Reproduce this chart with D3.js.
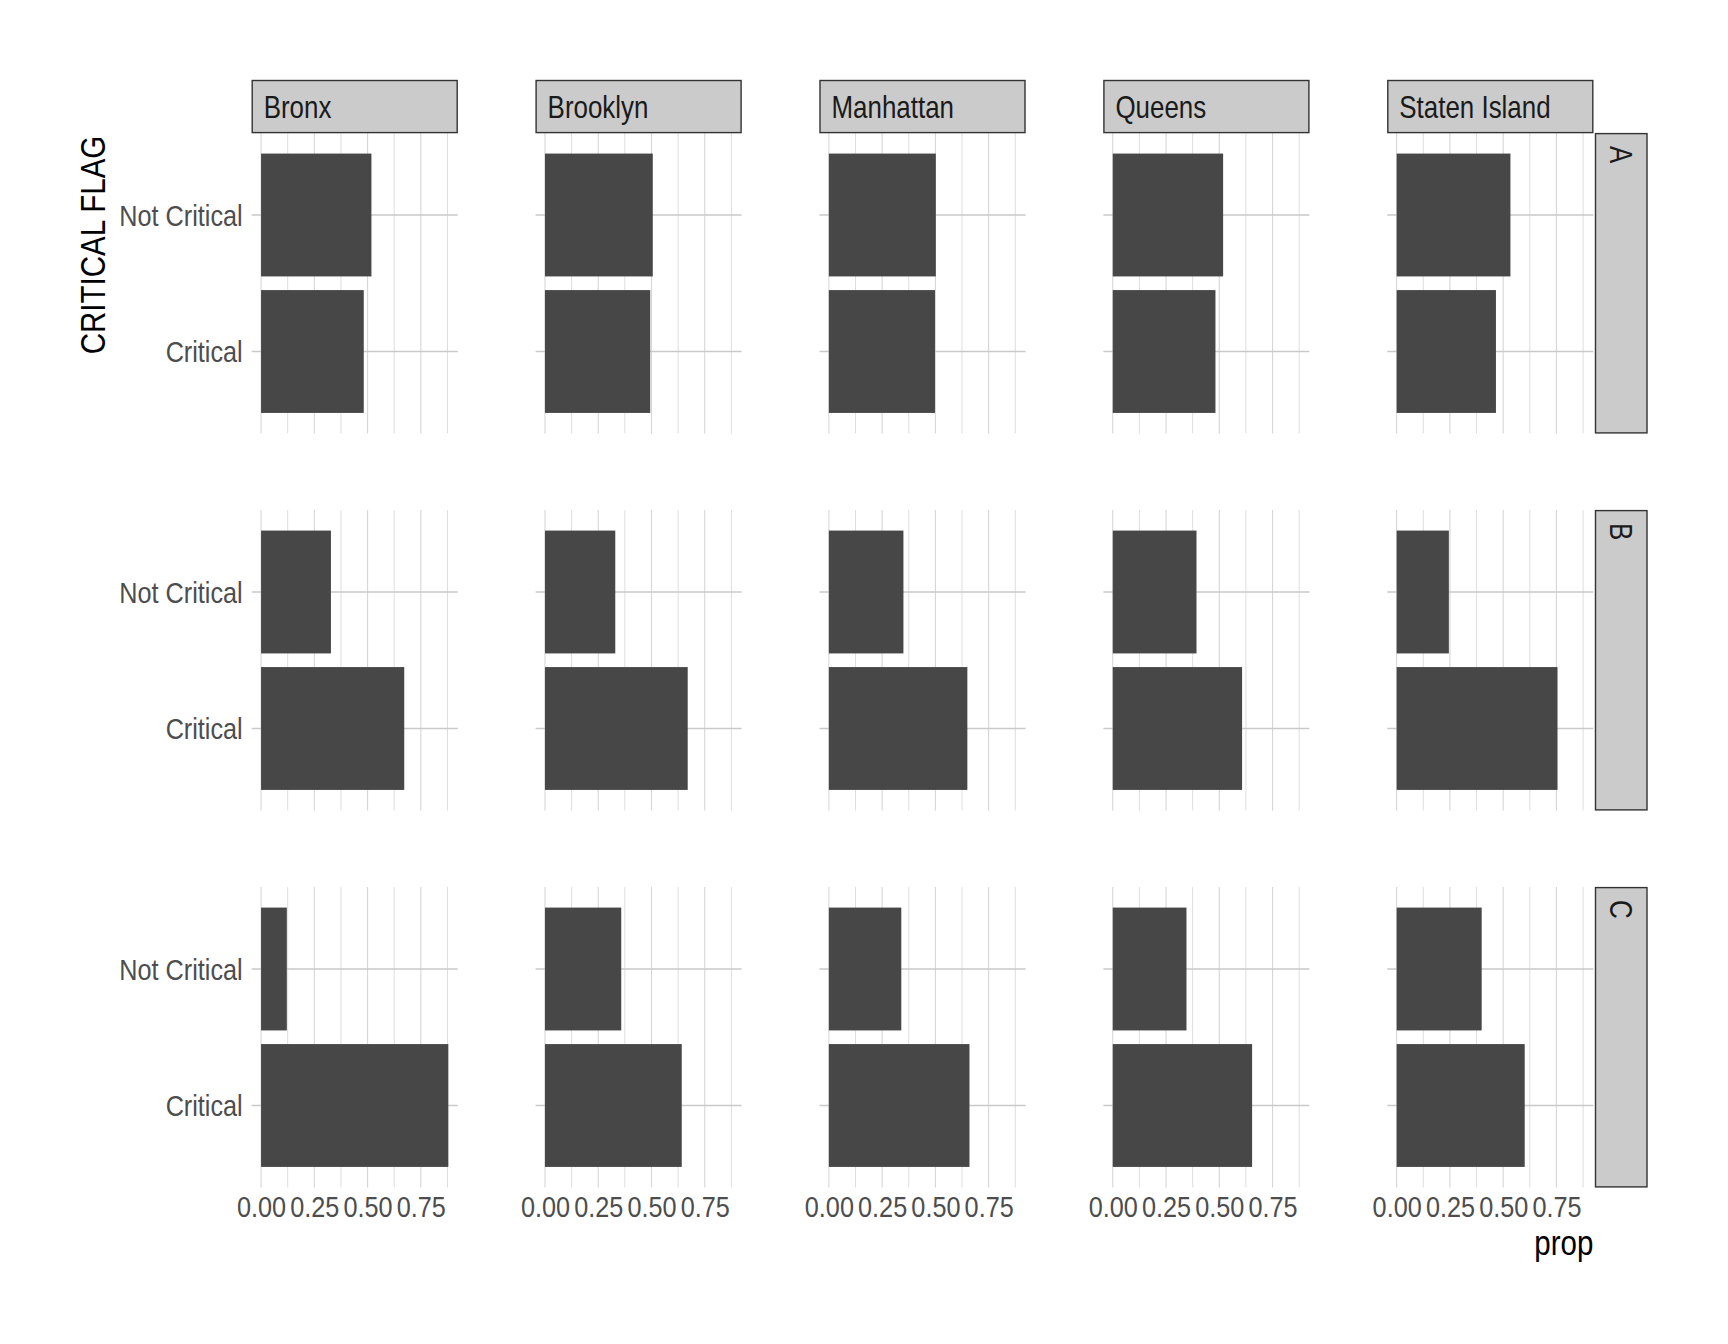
<!DOCTYPE html>
<html>
<head>
<meta charset="utf-8">
<script src="https://cdn.jsdelivr.net/npm/d3@7"></script>
<style>
  html, body { margin: 0; padding: 0; background: #ffffff; }
  svg { display: block; }
</style>
</head>
<body>
<svg id="chart" width="1728" height="1344"></svg>
<script>
// ---------------- data ----------------
const boroughs = ["Bronx", "Brooklyn", "Manhattan", "Queens", "Staten Island"];
const grades = ["A", "B", "C"];
const flags = ["Not Critical", "Critical"];

const notCriticalA = [0.518, 0.506, 0.502, 0.518, 0.534];
const criticalA    = [0.482, 0.494, 0.498, 0.482, 0.466];
const notCriticalB = [0.328, 0.330, 0.350, 0.393, 0.245];
const criticalB    = [0.672, 0.670, 0.650, 0.607, 0.755];
const notCriticalC = [0.121, 0.358, 0.340, 0.346, 0.399];
const criticalC    = [0.879, 0.642, 0.660, 0.654, 0.601];

const majorTicks = [0, 0.25, 0.50, 0.75];
const minorTicks = [0.125, 0.375, 0.625, 0.875];

const xTitle = "prop";
const yTitle = "CRITICAL FLAG";

// build rows
const byGrade = {
  A: [notCriticalA, criticalA],
  B: [notCriticalB, criticalB],
  C: [notCriticalC, criticalC]
};
const rows = [];
grades.forEach(g => {
  boroughs.forEach((b, bi) => {
    flags.forEach((f, fi) => {
      rows.push({ grade: g, borough: b, flag: f, prop: byGrade[g][fi][bi] });
    });
  });
});

// ---------------- layout ----------------
const FONT = "'Liberation Sans', Arial, sans-serif";
const TICK_SIZE = 29, TICK_SX = 0.87;
const STRIP_SIZE = 30.5, STRIP_SX = 0.85;
const TITLE_SIZE = 36, TITLE_SX = 0.82;

const panelLeft0 = 251.7, colStep = 283.9, panelW = 206;
const panelTop0 = 133.1, rowStep = 377, panelH = 300.3;
const stripTopY = 80, stripTopH = panelTop0 - stripTopY;
const stripRightGap = 1.7, stripRightW = 52.5;

const svg = d3.select("#chart");

const maxProp = d3.max(rows, d => d.prop);
const x = d3.scaleLinear()
  .domain([-0.05 * maxProp, 1.05 * maxProp])
  .range([0, panelW]);

const y = d3.scalePoint()
  .domain(flags)
  .range([0, panelH])
  .padding(0.6);
const step = y.step();
const barH = step * 0.9;

grades.forEach((g, gi) => {
  boroughs.forEach((b, bi) => {
    const px = panelLeft0 + bi * colStep;
    const py = panelTop0 + gi * rowStep;
    const p = svg.append("g").attr("transform", `translate(${px},${py})`);

    // minor + major vertical grid
    p.selectAll("line.vminor").data(minorTicks.filter(t => x(t) <= panelW)).enter()
      .append("line")
      .attr("x1", d => x(d)).attr("x2", d => x(d))
      .attr("y1", 0).attr("y2", panelH)
      .attr("stroke", "#dedede").attr("stroke-width", 1);
    p.selectAll("line.vmajor").data(majorTicks).enter()
      .append("line")
      .attr("x1", d => x(d)).attr("x2", d => x(d))
      .attr("y1", 0).attr("y2", panelH)
      .attr("stroke", "#d6d6d6").attr("stroke-width", 1.1);
    // horizontal grid
    p.selectAll("line.h").data(flags).enter()
      .append("line")
      .attr("x1", 0).attr("x2", panelW)
      .attr("y1", d => y(d)).attr("y2", d => y(d))
      .attr("stroke", "#c9c9c9").attr("stroke-width", 1.3);

    // bars
    const pd = rows.filter(r => r.grade === g && r.borough === b);
    p.selectAll("rect.bar").data(pd).enter()
      .append("rect")
      .attr("x", x(0))
      .attr("y", d => y(d.flag) - barH / 2)
      .attr("width", d => x(d.prop) - x(0))
      .attr("height", barH)
      .attr("fill", "#474747");

    // top strip
    if (gi === 0) {
      const s = svg.append("g").attr("transform", `translate(${px},${stripTopY})`);
      s.append("rect")
        .attr("x", 0.5).attr("y", 0.5)
        .attr("width", panelW - 1).attr("height", stripTopH - 1)
        .attr("fill", "#cbcbcb").attr("stroke", "#333333").attr("stroke-width", 1.4);
      s.append("text")
        .attr("transform", `translate(12,${stripTopH / 2}) scale(${STRIP_SX},1)`)
        .attr("dy", "0.36em")
        .attr("font-family", FONT).attr("font-size", STRIP_SIZE)
        .attr("fill", "#1a1a1a")
        .text(b);
    }
    // right strip
    if (bi === boroughs.length - 1) {
      const sx = px + panelW + stripRightGap;
      const s = svg.append("g").attr("transform", `translate(${sx},${py})`);
      s.append("rect")
        .attr("x", 0.5).attr("y", 0.5)
        .attr("width", stripRightW - 1).attr("height", panelH - 1)
        .attr("fill", "#cbcbcb").attr("stroke", "#333333").attr("stroke-width", 1.4);
      s.append("text")
        .attr("transform", `translate(${stripRightW / 2},13) rotate(90) scale(${STRIP_SX},1)`)
        .attr("dy", "0.36em")
        .attr("text-anchor", "start")
        .attr("font-family", FONT).attr("font-size", STRIP_SIZE)
        .attr("fill", "#1a1a1a")
        .text(g);
    }
    // y axis labels (first column)
    if (bi === 0) {
      const ax = p.append("g").call(d3.axisLeft(y).tickSize(0).tickPadding(9));
      ax.select(".domain").remove();
      ax.selectAll("text")
        .attr("x", -9 / TICK_SX)
        .attr("transform", `scale(${TICK_SX},1)`)
        .attr("font-family", FONT).attr("font-size", TICK_SIZE)
        .attr("fill", "#4d4d4d").attr("dy", "0.36em");
    }
    // x axis labels (last row)
    if (gi === grades.length - 1) {
      const ax = p.append("g").attr("transform", `translate(0,${panelH})`)
        .call(d3.axisBottom(x).tickValues(majorTicks).tickFormat(d3.format(".2f")).tickSize(0).tickPadding(9));
      ax.select(".domain").remove();
      ax.selectAll("text")
        .attr("transform", `scale(${TICK_SX},1)`)
        .attr("font-family", FONT).attr("font-size", TICK_SIZE)
        .attr("fill", "#4d4d4d");
    }
  });
});

// axis titles
svg.append("text")
  .attr("transform", `translate(91.7,245) rotate(-90) scale(${TITLE_SX},1)`)
  .attr("text-anchor", "middle")
  .attr("dy", "0.36em")
  .attr("font-family", FONT).attr("font-size", TITLE_SIZE)
  .attr("fill", "#000000")
  .text(yTitle);

svg.append("text")
  .attr("transform", `translate(${panelLeft0 + 4 * colStep + panelW},1255) scale(${TITLE_SX},1)`)
  .attr("text-anchor", "end")
  .attr("font-family", FONT).attr("font-size", TITLE_SIZE)
  .attr("fill", "#000000")
  .text(xTitle);
</script>
</body>
</html>
